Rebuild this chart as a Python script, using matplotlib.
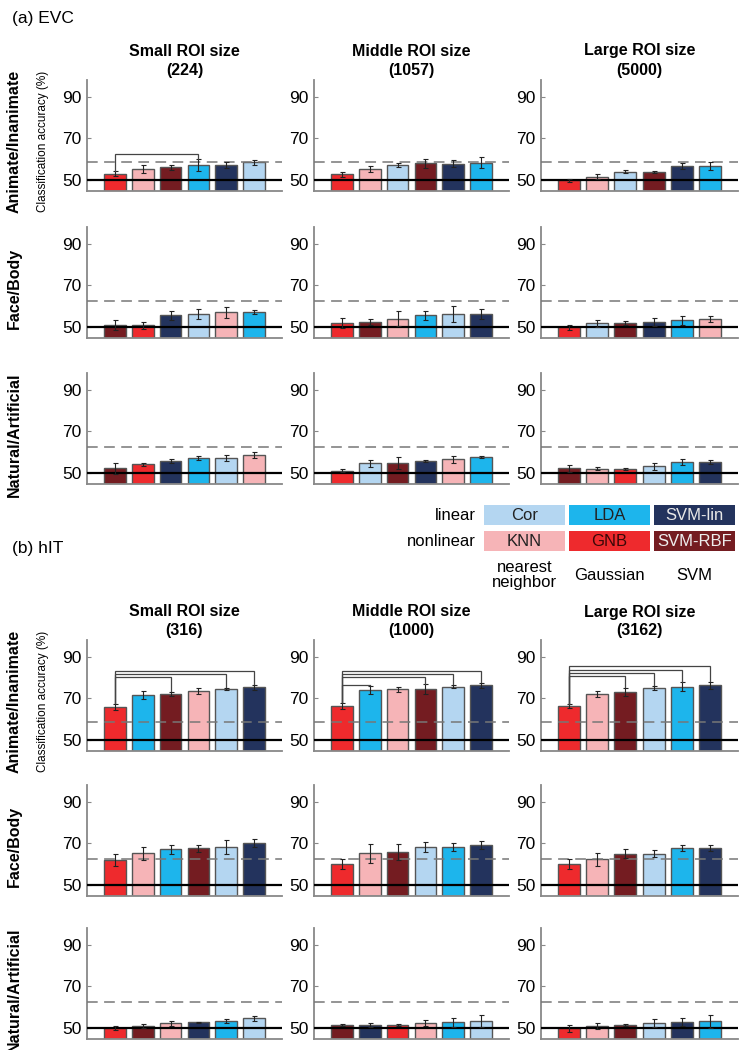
import matplotlib
matplotlib.use("Agg")
import matplotlib.pyplot as plt
from matplotlib.patches import Rectangle

plt.rcParams['font.family'] = ['Liberation Sans', 'DejaVu Sans']

W, H = 752, 1050

# classifier colours
COLORS = {'Cor': '#b4d6f1', 'LDA': '#1db5ec', 'SVM-lin': '#23335d',
          'KNN': '#f6b4b7', 'GNB': '#ee2a2d', 'SVM-RBF': '#741c21'}

tasks = ['Animate/Inanimate', 'Face/Body', 'Natural/Artificial']
size_names = ['Small ROI size', 'Middle ROI size', 'Large ROI size']
evc_sizes = ['(224)', '(1057)', '(5000)']
hit_sizes = ['(316)', '(1000)', '(3162)']
chance_level = [58.3, 62.2, 62.2]

################################################################################
# EVC data (per ROI size: small, middle, large)

evc_anim_order = [['GNB', 'KNN', 'SVM-RBF', 'LDA', 'SVM-lin', 'Cor'],
                  ['GNB', 'KNN', 'Cor', 'SVM-RBF', 'SVM-lin', 'LDA'],
                  ['GNB', 'KNN', 'Cor', 'SVM-RBF', 'SVM-lin', 'LDA']]
evc_anim_acc = [[52.9, 55.1, 55.9, 57.1, 57.0, 58.3],
                [52.6, 55.1, 57.1, 57.9, 57.7, 58.2],
                [49.6, 51.3, 53.9, 53.8, 56.6, 56.6]]
evc_anim_err = [[1.2, 1.8, 1.4, 2.8, 1.3, 1.0],
                [1.3, 1.3, 0.8, 2.3, 1.6, 2.8],
                [0.8, 1.2, 0.9, 0.6, 1.5, 1.8]]
evc_anim_brackets = [[(0, 3, 62.4)], [], []]

evc_face_order = [['SVM-RBF', 'GNB', 'SVM-lin', 'Cor', 'KNN', 'LDA'],
                  ['GNB', 'SVM-RBF', 'KNN', 'LDA', 'Cor', 'SVM-lin'],
                  ['GNB', 'Cor', 'SVM-RBF', 'SVM-lin', 'LDA', 'KNN']]
evc_face_acc = [[50.6, 50.6, 55.4, 56.2, 56.9, 56.9],
                [51.7, 52.3, 53.8, 55.5, 56.2, 56.2],
                [49.6, 51.6, 51.7, 52.4, 53.0, 53.6]]
evc_face_err = [[2.4, 1.8, 2.0, 2.4, 2.8, 1.0],
                [2.4, 1.6, 3.6, 2.2, 3.8, 2.4],
                [1.0, 1.8, 0.8, 2.0, 2.0, 1.6]]

evc_nat_order = [['SVM-RBF', 'GNB', 'SVM-lin', 'LDA', 'Cor', 'KNN'],
                 ['GNB', 'Cor', 'SVM-RBF', 'SVM-lin', 'KNN', 'LDA'],
                 ['SVM-RBF', 'KNN', 'GNB', 'Cor', 'LDA', 'SVM-lin']]
evc_nat_acc = [[52.1, 54.0, 55.8, 57.1, 57.2, 58.5],
               [51.0, 54.5, 54.6, 55.8, 56.4, 57.6],
               [52.0, 51.9, 51.9, 53.0, 55.0, 55.0]]
evc_nat_err = [[2.8, 0.6, 1.0, 1.0, 1.5, 1.5],
               [0.7, 1.8, 2.8, 0.5, 1.5, 0.4],
               [1.8, 0.6, 0.4, 1.5, 1.5, 1.0]]

################################################################################
# hIT data

hit_anim_order = [['GNB', 'LDA', 'SVM-RBF', 'KNN', 'Cor', 'SVM-lin'],
                  ['GNB', 'LDA', 'KNN', 'SVM-RBF', 'Cor', 'SVM-lin'],
                  ['GNB', 'KNN', 'SVM-RBF', 'Cor', 'LDA', 'SVM-lin']]
hit_anim_acc = [[65.9, 71.5, 72.1, 73.5, 74.6, 75.3],
                [66.3, 74.0, 74.4, 74.5, 75.7, 76.3],
                [66.1, 71.9, 73.1, 75.0, 75.7, 76.3]]
hit_anim_err = [[1.4, 1.8, 1.0, 1.5, 0.5, 1.2],
                [1.5, 2.0, 1.2, 2.3, 0.8, 1.2],
                [1.0, 1.5, 2.0, 1.0, 2.0, 1.8]]
hit_anim_brackets = [[(0, 2, 80.2), (0, 4, 81.9), (0, 5, 83.3)],
                     [(0, 1, 76.6), (0, 3, 80.2), (0, 4, 81.9), (0, 5, 83.3)],
                     [(0, 2, 80.9), (0, 3, 82.4), (0, 4, 83.8), (0, 5, 85.6)]]

hit_face_order = [['GNB', 'KNN', 'LDA', 'SVM-RBF', 'Cor', 'SVM-lin'],
                  ['GNB', 'KNN', 'SVM-RBF', 'Cor', 'LDA', 'SVM-lin'],
                  ['GNB', 'KNN', 'SVM-RBF', 'Cor', 'LDA', 'SVM-lin']]
hit_face_acc = [[62.0, 65.2, 67.0, 67.6, 68.3, 70.2],
                [60.0, 65.2, 65.7, 68.2, 68.2, 69.0],
                [60.0, 62.2, 65.0, 65.0, 67.6, 67.6]]
hit_face_err = [[2.8, 3.2, 2.0, 1.8, 3.5, 1.8],
                [2.3, 4.5, 3.8, 2.5, 2.0, 2.0],
                [2.3, 3.0, 2.0, 1.8, 1.5, 1.5]]

hit_nat_order = [['GNB', 'SVM-RBF', 'KNN', 'SVM-lin', 'LDA', 'Cor'],
                 ['SVM-RBF', 'SVM-lin', 'GNB', 'KNN', 'LDA', 'Cor'],
                 ['GNB', 'KNN', 'SVM-RBF', 'Cor', 'SVM-lin', 'LDA']]
hit_nat_acc = [[49.8, 50.6, 52.0, 52.5, 53.3, 54.5],
               [51.3, 51.3, 51.3, 52.4, 52.5, 53.2],
               [49.6, 50.6, 51.3, 52.3, 52.8, 53.0]]
hit_nat_err = [[1.0, 1.0, 1.0, 0.3, 1.0, 1.2],
               [0.6, 0.8, 0.5, 1.5, 2.0, 3.0],
               [1.5, 1.5, 0.4, 2.0, 2.0, 3.0]]

# legend
legend_rows = [['Cor', 'LDA', 'SVM-lin'], ['KNN', 'GNB', 'SVM-RBF']]
legend_row_names = ['linear', 'nonlinear']
legend_families = ['nearest\nneighbor', 'Gaussian', 'SVM']
legend_text_colors = {'Cor': '#222222', 'LDA': '#222222', 'SVM-lin': '#e8e8e8',
                      'KNN': '#222222', 'GNB': '#3a0808', 'SVM-RBF': '#eeeeee'}

################################################################################

YMIN, YMAX = 44.5, 98.2
COL_X = [(87, 282), (314, 509), (541, 738)]
EVC_ROWS = [(80, 191), (227, 338), (373, 484)]
HIT_ROWS = [(640, 751), (785, 896), (928, 1039)]


def add_px_axes(fig, x0, x1, y0, y1):
    return fig.add_axes([x0 / W, 1 - y1 / H, (x1 - x0) / W, (y1 - y0) / H])


def draw_panel(ax, order, acc, err, chance, brackets):
    x = list(range(len(order)))
    ax.bar(x, [a - YMIN for a in acc], bottom=YMIN, width=0.78,
           color=[COLORS[c] for c in order], edgecolor='#555555',
           linewidth=1.0, zorder=2)
    ax.errorbar(x, acc, yerr=err, fmt='none', ecolor='#222222',
                elinewidth=0.8, capsize=1.8, capthick=0.8, zorder=5)
    ax.axhline(50, color='black', lw=1.6, zorder=4)
    ax.axhline(chance, color='#777777', lw=1.1, dashes=(7, 4.2), zorder=3)
    for i, j, lvl in brackets:
        ax.plot([i, i, j, j], [acc[i] + err[i] + 0.3, lvl, lvl, acc[j] + err[j] + 0.3],
                color='#444444', lw=0.9, zorder=6, solid_joinstyle='miter')
    ax.set_xlim(-1, 6)
    ax.set_ylim(YMIN, YMAX)
    ax.set_xticks([])
    ax.set_yticks([50, 70, 90])
    ax.tick_params(axis='y', direction='in', length=3, color='#888888',
                   labelsize=12.5, pad=4)
    for s in ['top', 'right']:
        ax.spines[s].set_visible(False)
    for s in ['left', 'bottom']:
        ax.spines[s].set_color('#888888')
        ax.spines[s].set_linewidth(1.3)
    ax.patch.set_alpha(0)


fig = plt.figure(figsize=(W / 100, H / 100), dpi=100)

# overlay in pixel coordinates for text and legend
ov = fig.add_axes([0, 0, 1, 1])
ov.set_xlim(0, W)
ov.set_ylim(H, 0)
ov.axis('off')

sections = [
    ('(a) EVC', 18, 51, evc_sizes, EVC_ROWS,
     [(evc_anim_order, evc_anim_acc, evc_anim_err, evc_anim_brackets),
      (evc_face_order, evc_face_acc, evc_face_err, [[], [], []]),
      (evc_nat_order, evc_nat_acc, evc_nat_err, [[], [], []])]),
    ('(b) hIT', 548, 612, hit_sizes, HIT_ROWS,
     [(hit_anim_order, hit_anim_acc, hit_anim_err, hit_anim_brackets),
      (hit_face_order, hit_face_acc, hit_face_err, [[], [], []]),
      (hit_nat_order, hit_nat_acc, hit_nat_err, [[], [], []])]),
]

for label, label_y, title_y, sizes, rows, data in sections:
    ov.text(12, label_y, label, fontsize=12.5, ha='left', va='center')
    for c, (x0, x1) in enumerate(COL_X):
        xc = (x0 + x1) / 2
        ov.text(xc, title_y, size_names[c], fontsize=11.5, weight='bold',
                ha='center', va='center')
        ov.text(xc, title_y + 19, sizes[c], fontsize=11.5, weight='bold',
                ha='center', va='center')
    for r, (y0, y1) in enumerate(rows):
        order, acc, err, brackets = data[r]
        yc = (y0 + y1) / 2 + 6
        ov.text(14, yc, tasks[r], rotation=90, fontsize=11.5, weight='bold',
                ha='center', va='center')
        if r == 0:
            ov.text(43, yc, 'Classification accuracy (%)', rotation=90,
                    fontsize=8.5, ha='center', va='center')
        for c, (x0, x1) in enumerate(COL_X):
            ax = add_px_axes(fig, x0, x1, y0, y1)
            draw_panel(ax, order[c], acc[c], err[c], chance_level[r], brackets[c])

# legend boxes
box_x = [484, 569, 654]
box_y = [505, 531]
for r, names in enumerate(legend_rows):
    ov.text(476, box_y[r] + 10, legend_row_names[r], fontsize=12, ha='right', va='center')
    for c, name in enumerate(names):
        ov.add_patch(Rectangle((box_x[c], box_y[r]), 81, 20, facecolor=COLORS[name],
                               edgecolor='none'))
        ov.text(box_x[c] + 40.5, box_y[r] + 10.5, name, fontsize=12, ha='center',
                va='center', color=legend_text_colors[name])
for c, fam in enumerate(legend_families):
    ov.text(box_x[c] + 40.5, 575, fam, fontsize=12, ha='center', va='center',
            linespacing=1.0)

fig.savefig('out.png', dpi=100)
